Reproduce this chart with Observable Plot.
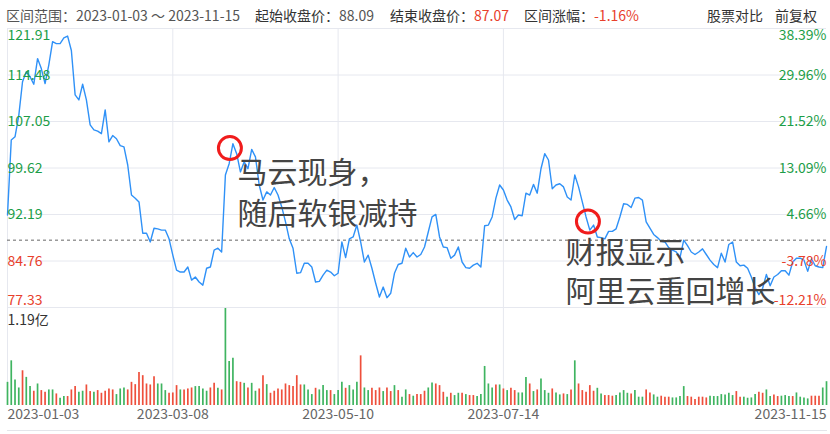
<!DOCTYPE html>
<html><head><meta charset="utf-8">
<script src="https://cdn.jsdelivr.net/npm/d3@7"></script>
<script src="https://cdn.jsdelivr.net/npm/@observablehq/plot@0.6"></script>
<style>
body{margin:0;background:#fff;font-family:"Noto Sans CJK SC","Noto Sans",sans-serif;}
#wrap{position:relative;width:830px;height:434px;overflow:hidden;}
#hdr{position:relative;height:24px;font-size:14px;}
#hdr span{position:absolute;top:7px;white-space:nowrap;line-height:16px;}
svg{display:block;overflow:visible;}
#foot{height:0;border-top:1px solid #e3e5ea;margin:0 3px 0 7px;}
</style></head><body><div id="wrap"><div id="hdr"></div></div>
<script>
// ---- data ----
const rangeStart = "2023-01-03";
const rangeEnd = "2023-11-15";
const startClose = 88.09;
const endClose = 87.07;
const changePct = "-1.16%";

const closes = [
92.1,104.1,104.6,108.0,113.4,115.0,114.2,113.0,117.1,115.5,
113.1,116.1,119.8,119.5,119.5,120.4,120.7,118.4,111.3,110.5,
113.0,110.5,106.5,105.7,105.5,105.1,108.9,103.8,104.8,104.3,
103.2,103.0,100.1,95.3,94.8,94.2,89.2,89.2,87.8,90.0,
89.9,89.7,89.7,88.3,85.7,83.3,83.0,83.0,83.8,81.7,
82.2,81.4,80.9,83.6,83.8,86.5,86.8,86.2,98.5,100.3,
103.5,101.9,99.0,100.6,99.5,102.6,101.4,96.9,94.5,95.8,
95.3,96.5,95.3,93.4,91.0,88.3,86.8,82.8,82.9,84.4,
84.4,83.8,81.4,81.5,82.5,83.3,83.0,82.4,82.8,87.8,
85.3,88.3,88.6,90.5,87.8,84.6,85.7,83.6,81.2,79.0,
80.6,78.9,79.6,82.8,84.2,84.4,86.8,85.4,86.1,85.4,
85.8,87.0,89.4,91.8,92.2,88.6,87.0,86.9,85.2,85.7,
87.0,84.6,83.7,83.6,84.1,84.4,83.8,90.4,90.5,91.8,
94.8,96.9,96.1,94.5,93.4,91.4,92.1,92.0,95.6,95.3,
97.0,95.6,99.5,101.9,100.9,96.3,96.9,97.1,96.6,95.0,
94.5,98.5,96.6,94.2,91.8,89.7,90.5,88.6,88.5,88.3,
89.5,89.5,89.9,91.8,93.9,93.8,93.3,94.8,94.9,94.5,
91.0,90.0,89.0,88.5,87.9,87.8,86.9,86.5,86.2,85.3,
88.1,87.2,86.2,85.8,86.2,86.7,85.8,84.9,84.2,83.7,
86.0,84.6,87.4,87.8,84.6,84.0,84.1,83.6,82.2,80.5,
79.4,80.4,82.6,80.8,82.2,82.6,83.2,83.2,82.5,84.6,
85.2,85.2,84.9,83.1,85.1,84.0,83.8,83.7,87.07
];

// volume, millions of shares
const volumes = [
28.4,54.8,31.3,21.5,42.6,34.5,23.2,17.5,26.4,18.3,
16.2,19.1,19.1,14.2,8.9,11.0,11.0,19.1,23.2,16.2,
17.5,25.2,17.1,16.2,18.3,15.0,17.5,20.3,19.1,13.4,
20.3,21.5,19.1,28.4,25.6,40.6,36.6,26.4,25.2,35.3,
26.4,26.4,18.3,15.0,15.4,24.4,19.1,19.1,20.3,21.5,
23.2,23.2,20.3,17.5,21.5,27.2,21.1,19.1,119,54.0,
58.1,29.2,28.4,27.2,21.5,27.2,17.5,20.3,36.6,25.6,
15.0,17.5,20.3,19.1,26.4,24.4,23.2,36.6,25.2,25.2,
19.1,13.4,21.1,19.1,24.4,18.3,18.3,13.4,18.3,28.4,
21.1,24.4,19.1,28.4,60.9,21.5,18.3,21.1,18.3,21.5,
17.1,21.5,17.1,24.4,18.3,10.2,19.1,13.4,11.4,13.4,
13.4,17.5,21.5,27.6,26.4,24.4,16.2,10.2,15.0,12.2,
15.0,15.0,13.4,12.2,12.2,11.0,13.4,47.9,26.4,21.5,
25.2,25.2,20.3,18.3,21.1,18.3,15.4,15.4,34.5,26.4,
17.1,19.1,32.5,18.3,15.0,20.3,15.4,13.0,14.2,13.4,
19.1,54.8,26.4,18.3,16.2,24.4,17.5,21.1,14.2,12.2,
12.2,11.4,12.2,15.4,18.3,15.0,14.2,18.3,10.2,10.2,
19.1,15.4,13.0,10.2,11.4,10.2,10.2,9.3,9.3,11.0,
23.2,11.0,10.2,7.3,10.2,10.2,9.3,11.4,11.0,11.0,
13.4,13.0,15.0,12.2,17.1,10.2,10.2,8.9,9.3,13.4,
16.2,15.0,19.1,11.0,13.0,11.0,11.4,12.2,11.0,11.0,
15.4,10.2,9.3,8.1,11.4,11.4,11.4,21.5,29.2
];

// R = red bar, G = green bar
const volColors = (
"GGGGRGGRGR"+"RGGRGGRRRG"+"GRRGRRRRRG"+"GGRRRRRRRR"+"GGGRRRGRRR"+"GGGGRRGRGG"+"GRRGRGGRRG"+"RRR"+
"RRRRRRGGGR"+"GGGRGGGRGG"+"GRGGRRRGRR"+"GRGGRGRRRG"+"GRRRGRGGRG"+"RRGGGGGRGR"+"GRRGGGRGRG"+"GGRGG"+
"RGRGRRRRRG"+"GRRRGGGGRG"+"GGRRGGRRRG"+"GGGRRRRRRG"+"GGGGGGRRGG"+"GGRRGGRRGG"+"GRGGGGRRRG"+"G"
).split("");

const priceTicks = [121.91, 114.48, 107.05, 99.62, 92.19, 84.76, 77.33];
const pctTicks = ["38.39%", "29.96%", "21.52%", "13.09%", "4.66%", "-3.78%", "-12.21%"];
const dateTicks = [
  {i: 0, label: "2023-01-03"},
  {i: 44, label: "2023-03-08"},
  {i: 88, label: "2023-05-10"},
  {i: 132, label: "2023-07-14"},
  {i: 218, label: "2023-11-15"}
];
const gridIdx = [0, 44, 88, 132];
const volMax = 119;
const volMaxLabel = "1.19亿";

const notes = [
  {i: 61.2, p: 98.74, label: "马云现身，"},
  {i: 61.2, p: 92.19, label: "随后软银减持"},
  {i: 148.5, p: 85.96, label: "财报显示"},
  {i: 148.5, p: 79.73, label: "阿里云重回增长"}
];
const circles = [
  {i: 59.2, p: 102.8},
  {i: 154.5, p: 91.07}
];

// ---- styles ----
const FONT = '"Noto Sans CJK SC","Noto Sans",sans-serif';
const GREEN = "#1d9e48";
const RED = "#e8402c";
const GRID = "#e6e8ef";
const BLUE = "#2f91f7";
const VRED = "#ee4f3b";
const VGREEN = "#3fb460";

// ---- header ----
const hdr = document.getElementById("hdr");
const items = [
  {left: 6, parts: [["区间范围：", "#555"], [rangeStart + " ～ " + rangeEnd, "#555"]]},
  {left: 255, parts: [["起始收盘价：", "#333"], [startClose.toFixed(2), "#555"]]},
  {left: 390, parts: [["结束收盘价：", "#333"], [endClose.toFixed(2), RED]]},
  {left: 524, parts: [["区间涨幅：", "#333"], [changePct, RED]]},
  {left: 707, parts: [["股票对比", "#333"]]},
  {left: 775, parts: [["前复权", "#333"]]}
];
for (const it of items) {
  const s = document.createElement("span");
  s.style.left = it.left + "px";
  for (const [t, c] of it.parts) {
    const e = document.createElement("span");
    e.textContent = t; e.style.color = c; e.style.position = "static";
    s.appendChild(e);
  }
  hdr.appendChild(s);
}

const xDomain = [0, closes.length - 1];
const tickColor = (v) => v >= startClose ? GREEN : RED;
const pctColor = (s) => s.startsWith("-") ? RED : GREEN;
const tIdx = priceTicks.map((d, i) => i);
const last = tIdx.length - 1;

const price = Plot.plot({
  width: 830, height: 284,
  marginLeft: 7, marginRight: 4, marginTop: 4, marginBottom: 1,
  x: {domain: xDomain, axis: null},
  y: {domain: [77.33, 121.91], axis: null},
  color: {type: "identity"},
  style: {fontFamily: FONT, fontSize: "14px", background: "transparent", overflow: "visible"},
  marks: [
    Plot.ruleY(priceTicks, {stroke: GRID}),
    Plot.ruleX(gridIdx, {stroke: GRID}),
    Plot.ruleY([startClose], {stroke: "#666", strokeDasharray: "3,3"}),
    Plot.line(closes, {x: (d, i) => i, y: (d) => d, stroke: BLUE, strokeWidth: 1.4}),
    // left labels
    Plot.text(tIdx.filter(i => i === 0), {y: i => priceTicks[i], text: i => priceTicks[i].toFixed(2), frameAnchor: "left", textAnchor: "start", dy: 7.5, fill: i => tickColor(priceTicks[i])}),
    Plot.text(tIdx.filter(i => i > 0 && i < last), {y: i => priceTicks[i], text: i => priceTicks[i].toFixed(2), frameAnchor: "left", textAnchor: "start", dy: 0.5, fill: i => tickColor(priceTicks[i])}),
    Plot.text(tIdx.filter(i => i === last), {y: i => priceTicks[i], text: i => priceTicks[i].toFixed(2), frameAnchor: "left", textAnchor: "start", dy: -6.5, fill: i => tickColor(priceTicks[i])}),
    // right labels
    Plot.text(tIdx.filter(i => i === 0), {y: i => priceTicks[i], text: i => pctTicks[i], frameAnchor: "right", textAnchor: "end", dy: 7.5, fill: i => pctColor(pctTicks[i])}),
    Plot.text(tIdx.filter(i => i > 0 && i < last), {y: i => priceTicks[i], text: i => pctTicks[i], frameAnchor: "right", textAnchor: "end", dy: 0.5, fill: i => pctColor(pctTicks[i])}),
    Plot.text(tIdx.filter(i => i === last), {y: i => priceTicks[i], text: i => pctTicks[i], frameAnchor: "right", textAnchor: "end", dy: -6.5, fill: i => pctColor(pctTicks[i])}),
    // annotations
    Plot.text(notes, {x: "i", y: "p", text: "label", textAnchor: "start", lineAnchor: "middle", fontSize: 30, fill: "#444"}),
    Plot.dot(circles, {x: "i", y: "p", r: 11.5, stroke: "#f01c1c", strokeWidth: 3, fill: "none"})
  ]
});

const vol = Plot.plot({
  width: 830, height: 122,
  marginLeft: 7, marginRight: 4, marginTop: 0, marginBottom: 25,
  x: {domain: xDomain, axis: null},
  y: {domain: [0, volMax], axis: null},
  color: {type: "identity"},
  style: {fontFamily: FONT, fontSize: "14px", background: "transparent", overflow: "visible"},
  marks: [
    Plot.ruleX(gridIdx, {stroke: GRID}),
    Plot.ruleX(volumes, {x: (d, i) => i, y1: 0, y2: (d) => d, stroke: (d, i) => volColors[i] === "R" ? VRED : VGREEN, strokeWidth: 1.7}),
    Plot.text([volMaxLabel], {frameAnchor: "top-left", textAnchor: "start", dy: 7, text: d => d, fill: "#333"}),
    Plot.text(dateTicks.slice(0, 1), {x: "i", text: "label", frameAnchor: "bottom", textAnchor: "start", dy: 13, fill: "#666"}),
    Plot.text(dateTicks.slice(1, -1), {x: "i", text: "label", frameAnchor: "bottom", textAnchor: "middle", dy: 13, fill: "#666"}),
    Plot.text(dateTicks.slice(-1), {x: "i", text: "label", frameAnchor: "bottom", textAnchor: "end", dy: 13, fill: "#666"})
  ]
});

const wrap = document.getElementById("wrap");
wrap.appendChild(price);
wrap.appendChild(vol);
const foot = document.createElement("div");
foot.id = "foot";
wrap.appendChild(foot);
</script>
</body></html>
